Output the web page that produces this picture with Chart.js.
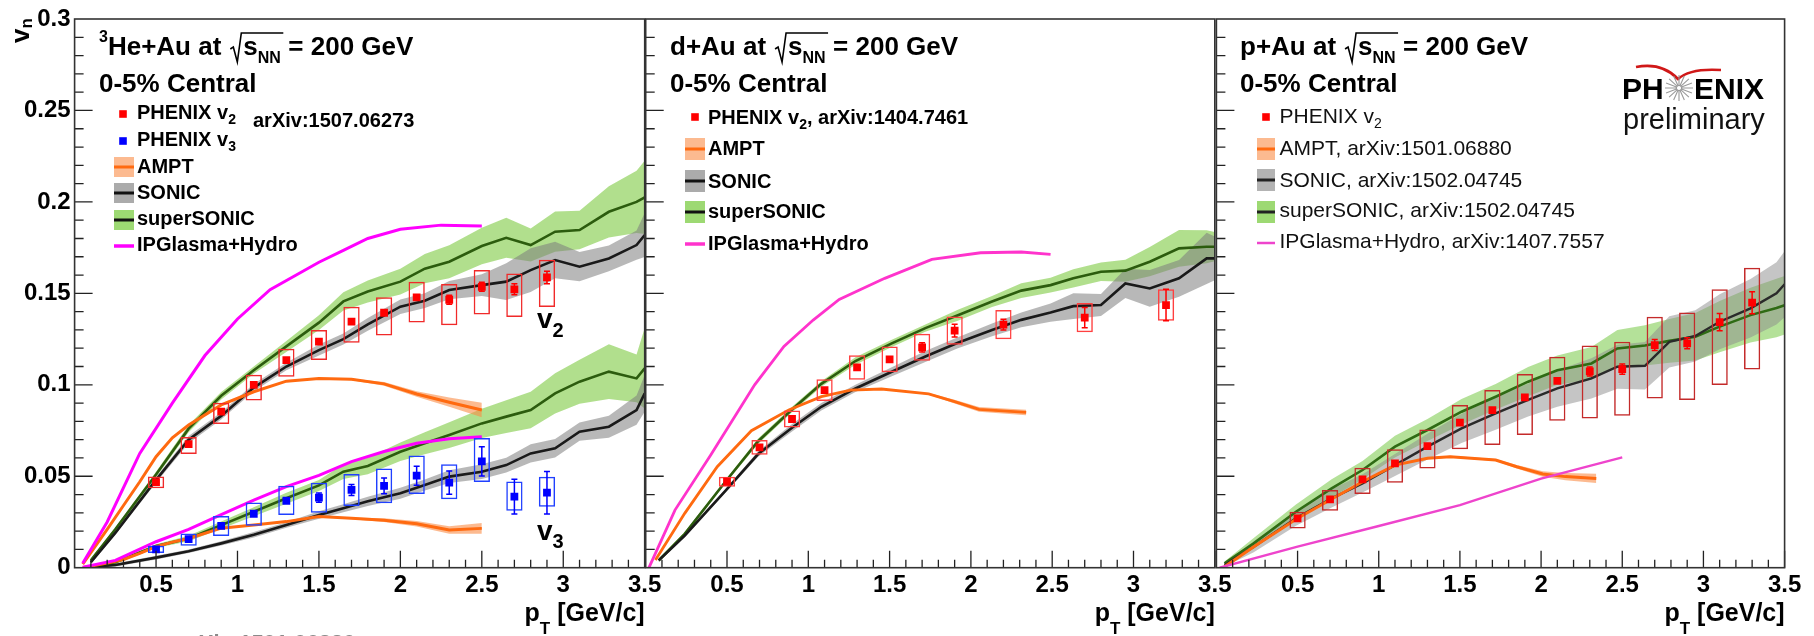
<!DOCTYPE html>
<html>
<head>
<meta charset="utf-8">
<title>v2 / v3 vs pT in 3He+Au, d+Au, p+Au</title>
<script src="https://cdn.jsdelivr.net/npm/chart.js@4.4.1/dist/chart.umd.min.js"></script>
<style>
  body { margin: 0; background: #fff; }
  #wrap { position: relative; width: 1814px; height: 636px; background: #fff; }
  #wrap canvas { position: absolute; left: 0; top: 0; }
</style>
</head>
<body>
<div id="wrap">
  <canvas id="heAu" width="1814" height="636"></canvas>
  <canvas id="dAu" width="1814" height="636"></canvas>
  <canvas id="pAu" width="1814" height="636"></canvas>
</div>
<script>
// ---- axes ----
const xTicks = [0.5, 1, 1.5, 2, 2.5, 3, 3.5];
const yTicks = [0, 0.05, 0.1, 0.15, 0.2, 0.25, 0.3];

// ---- 3He+Au : PHENIX data ----
const heAuPt = [0.5, 0.7, 0.9, 1.1, 1.3, 1.5, 1.7, 1.9, 2.1, 2.3, 2.5, 2.7, 2.9];
const heAuV2 = [0.0468, 0.0676, 0.0853, 0.100, 0.1135, 0.1236, 0.1345, 0.1394, 0.1478, 0.1465, 0.1536, 0.1522, 0.1587];
const heAuV2Stat = [0.001, 0.001, 0.0012, 0.0012, 0.0013, 0.0015, 0.0018, 0.002, 0.0022, 0.0025, 0.0025, 0.003, 0.0034];
const heAuV2SysUp = [0.0031, 0.0038, 0.0049, 0.0055, 0.0062, 0.0064, 0.0082, 0.0084, 0.0086, 0.0086, 0.0091, 0.0086, 0.0097];
const heAuV2SysDn = [0.0033, 0.0055, 0.0067, 0.0086, 0.0091, 0.01, 0.0115, 0.0124, 0.0137, 0.0139, 0.0151, 0.0151, 0.0162];
const heAuV3 = [0.0100, 0.0156, 0.0229, 0.0295, 0.0366, 0.0383, 0.0425, 0.0447, 0.0503, 0.0465, 0.0581, 0.0389, 0.0410];
const heAuV3Stat = [0.0008, 0.001, 0.0012, 0.0015, 0.002, 0.0025, 0.003, 0.0043, 0.0052, 0.0064, 0.008, 0.0095, 0.0116];
const heAuV3SysUp = [0.002, 0.0031, 0.0053, 0.0062, 0.0082, 0.0082, 0.0087, 0.0095, 0.011, 0.01, 0.0128, 0.0082, 0.0087];
const heAuV3SysDn = [0.002, 0.0036, 0.0055, 0.0066, 0.0078, 0.0082, 0.0087, 0.0095, 0.01, 0.0091, 0.0113, 0.0077, 0.0077];

// ---- 3He+Au : models ----
const heAuIpgV2Pt = [0.05, 0.2, 0.4, 0.6, 0.8, 1.0, 1.2, 1.5, 1.65, 1.8, 2.0, 2.25, 2.5];
const heAuIpgV2 = [0.0024, 0.025, 0.0625, 0.09, 0.116, 0.136, 0.152, 0.167, 0.1735, 0.18, 0.185, 0.1873, 0.1868];
const heAuIpgV3Pt = [0.05, 0.25, 0.5, 0.7, 0.9, 1.1, 1.3, 1.5, 1.7, 1.9, 2.1, 2.3, 2.5];
const heAuIpgV3 = [0.0003, 0.004, 0.0142, 0.021, 0.029, 0.037, 0.0443, 0.0505, 0.058, 0.0635, 0.068, 0.0705, 0.0716];
const heAuAmptPt = [0.05, 0.2, 0.3, 0.4, 0.5, 0.6, 0.7, 0.9, 1.1, 1.3, 1.5, 1.7, 1.9, 2.1, 2.3, 2.5];
const heAuAmptV2 = [0.002, 0.021, 0.034, 0.047, 0.0607, 0.071, 0.078, 0.089, 0.0962, 0.102, 0.1035, 0.103, 0.1005, 0.095, 0.0905, 0.0862];
const heAuAmptV2Err = [0, 0, 0, 0, 0, 0, 0, 0, 0, 0, 0, 0.0005, 0.001, 0.0015, 0.0025, 0.004];
const heAuAmptV3 = [0, 0.0025, 0.0045, 0.0078, 0.0115, 0.014, 0.016, 0.0216, 0.0234, 0.0252, 0.028, 0.027, 0.026, 0.024, 0.0206, 0.0215];
const heAuAmptV3Err = [0, 0, 0, 0, 0, 0, 0, 0, 0, 0, 0, 0.0005, 0.001, 0.0015, 0.002, 0.003];
const heAuHydroPt = [0.1, 0.25, 0.5, 0.7, 0.9, 1.1, 1.3, 1.5, 1.65, 1.8, 2.0, 2.15, 2.3, 2.5, 2.65, 2.8, 2.95, 3.1, 3.28, 3.45, 3.5];
const heAuSuperV2 = [0.004, 0.021, 0.051, 0.076, 0.094, 0.108, 0.121, 0.134, 0.1456, 0.151, 0.1564, 0.1635, 0.1673, 0.1759, 0.1804, 0.1764, 0.1837, 0.1846, 0.1946, 0.2, 0.2025];
const heAuSuperV2Err = [0.001, 0.001, 0.0015, 0.002, 0.002, 0.002, 0.003, 0.004, 0.005, 0.006, 0.007, 0.008, 0.009, 0.01, 0.011, 0.009, 0.011, 0.0105, 0.014, 0.017, 0.02];
const heAuSonicV2 = [0.003, 0.019, 0.048, 0.07, 0.083, 0.0985, 0.11, 0.119, 0.125, 0.133, 0.1427, 0.146, 0.1518, 0.1545, 0.1564, 0.1627, 0.1682, 0.1646, 0.1691, 0.1764, 0.1819];
const heAuSonicV2Err = [0.001, 0.001, 0.0015, 0.002, 0.002, 0.002, 0.002, 0.003, 0.003, 0.0035, 0.004, 0.004, 0.005, 0.006, 0.01, 0.012, 0.01, 0.008, 0.007, 0.008, 0.012];
const heAuSuperV3 = [0.0005, 0.003, 0.0118, 0.016, 0.0233, 0.0306, 0.038, 0.045, 0.0525, 0.0556, 0.0634, 0.068, 0.0725, 0.0789, 0.0826, 0.0862, 0.0953, 0.1017, 0.1072, 0.1035, 0.109];
const heAuSuperV3Err = [0.0005, 0.001, 0.001, 0.0015, 0.002, 0.0025, 0.003, 0.003, 0.004, 0.0045, 0.005, 0.006, 0.007, 0.008, 0.009, 0.01, 0.011, 0.012, 0.015, 0.013, 0.022];
const heAuSonicV3 = [0.0003, 0.0015, 0.0055, 0.009, 0.0133, 0.018, 0.0233, 0.0288, 0.0325, 0.0363, 0.0407, 0.0452, 0.0498, 0.0525, 0.0561, 0.0625, 0.0653, 0.0744, 0.0771, 0.0862, 0.0953];
const heAuSonicV3Err = [0.0005, 0.0008, 0.001, 0.001, 0.0012, 0.0015, 0.0015, 0.002, 0.0022, 0.0025, 0.003, 0.003, 0.0035, 0.004, 0.004, 0.005, 0.005, 0.005, 0.006, 0.008, 0.01];

// ---- d+Au ----
const dAuPt = [0.5, 0.7, 0.9, 1.1, 1.3, 1.5, 1.7, 1.9, 2.2, 2.7, 3.2];
const dAuV2 = [0.047, 0.0658, 0.0813, 0.0971, 0.1095, 0.1139, 0.1205, 0.1296, 0.1329, 0.1367, 0.1436];
const dAuV2Stat = [0.001, 0.001, 0.0012, 0.0013, 0.0015, 0.0018, 0.0025, 0.0035, 0.003, 0.0055, 0.0086];
const dAuV2Sys = [0.0027, 0.004, 0.0047, 0.006, 0.0067, 0.007, 0.0074, 0.0077, 0.008, 0.008, 0.0086];
const dAuIpgPt = [0.02, 0.18, 0.4, 0.67, 0.85, 1.03, 1.19, 1.47, 1.76, 2.06, 2.31, 2.49];
const dAuIpgV2 = [0.0, 0.0315, 0.0616, 0.1, 0.121, 0.1354, 0.1467, 0.1582, 0.1686, 0.1722, 0.1726, 0.1713];
const dAuAmptPt = [0.06, 0.24, 0.44, 0.65, 0.88, 1.08, 1.26, 1.45, 1.74, 1.9, 2.05, 2.34];
const dAuAmptV2 = [0.0042, 0.0297, 0.0552, 0.0749, 0.0862, 0.0935, 0.0971, 0.0977, 0.095, 0.0908, 0.0866, 0.0849];
const dAuAmptV2Err = [0, 0, 0, 0, 0, 0, 0, 0, 0.0005, 0.001, 0.0013, 0.0015];
const dAuHydroPt = [0.08, 0.24, 0.49, 0.69, 0.9, 1.08, 1.29, 1.51, 1.72, 1.92, 2.13, 2.31, 2.49, 2.63, 2.8, 2.95, 3.1, 3.28, 3.45, 3.5];
const dAuSuperV2 = [0.004, 0.0185, 0.047, 0.069, 0.0865, 0.1005, 0.113, 0.1225, 0.131, 0.138, 0.1455, 0.1515, 0.1545, 0.1582, 0.1618, 0.1624, 0.1673, 0.1746, 0.1755, 0.1755];
const dAuSuperV2Err = [0.001, 0.001, 0.001, 0.0015, 0.0015, 0.0015, 0.002, 0.002, 0.002, 0.003, 0.003, 0.004, 0.004, 0.005, 0.005, 0.006, 0.008, 0.01, 0.009, 0.008];
const dAuSonicV2 = [0.004, 0.0175, 0.042, 0.062, 0.0765, 0.088, 0.098, 0.107, 0.1155, 0.123, 0.130, 0.1355, 0.1395, 0.143, 0.1436, 0.1554, 0.1527, 0.1582, 0.1691, 0.1691];
const dAuSonicV2Err = [0.001, 0.001, 0.001, 0.0015, 0.002, 0.002, 0.002, 0.0025, 0.003, 0.003, 0.0035, 0.004, 0.005, 0.007, 0.006, 0.008, 0.01, 0.01, 0.014, 0.012];

// ---- p+Au ----
const pAuPt = [0.5, 0.7, 0.9, 1.1, 1.3, 1.5, 1.7, 1.9, 2.1, 2.3, 2.5, 2.7, 2.9, 3.1, 3.3];
const pAuV2 = [0.027, 0.0374, 0.0483, 0.057, 0.0665, 0.0793, 0.0862, 0.0931, 0.1022, 0.1073, 0.1086, 0.1217, 0.1227, 0.1343, 0.1449];
const pAuV2Stat = [0.001, 0.001, 0.001, 0.0012, 0.0014, 0.0016, 0.0018, 0.002, 0.0022, 0.0025, 0.0028, 0.003, 0.003, 0.0047, 0.006];
const pAuV2SysUp = [0.0036, 0.0051, 0.0064, 0.0077, 0.0091, 0.0097, 0.0109, 0.0128, 0.0131, 0.0142, 0.0149, 0.0155, 0.0168, 0.018, 0.0191];
const pAuV2SysDn = [0.0055, 0.0062, 0.008, 0.0106, 0.0122, 0.0146, 0.0191, 0.0206, 0.0219, 0.0257, 0.0255, 0.0292, 0.031, 0.0344, 0.0365];
const pAuIpgPt = [0.02, 0.5, 1.0, 1.5, 2.0, 2.5];
const pAuIpgV2 = [0.0, 0.0115, 0.0228, 0.0342, 0.0487, 0.0603];
const pAuAmptPt = [0.05, 0.23, 0.5, 0.7, 0.9, 1.1, 1.3, 1.44, 1.72, 1.85, 2.01, 2.15, 2.34];
const pAuAmptV2 = [0.0005, 0.0115, 0.027, 0.037, 0.047, 0.0561, 0.0598, 0.0607, 0.0589, 0.0552, 0.0512, 0.0498, 0.0488];
const pAuAmptV2Err = [0, 0, 0, 0, 0, 0, 0.0005, 0.0005, 0.0005, 0.001, 0.0015, 0.002, 0.0025];
const pAuHydroPt = [0.05, 0.23, 0.49, 0.71, 0.9, 1.1, 1.3, 1.51, 1.72, 1.92, 2.1, 2.31, 2.47, 2.64, 2.79, 2.95, 3.1, 3.29, 3.45, 3.5];
const pAuSuperV2 = [0.0024, 0.0133, 0.0306, 0.0434, 0.0534, 0.0662, 0.0753, 0.0853, 0.0935, 0.1017, 0.108, 0.1117, 0.1199, 0.1215, 0.124, 0.1263, 0.1318, 0.1381, 0.142, 0.1435];
const pAuSuperV2Err = [0.001, 0.003, 0.004, 0.005, 0.005, 0.006, 0.006, 0.007, 0.007, 0.008, 0.008, 0.009, 0.01, 0.011, 0.012, 0.013, 0.014, 0.015, 0.016, 0.016];
const pAuSonicV2 = [0.0015, 0.0115, 0.027, 0.0379, 0.0461, 0.0561, 0.0662, 0.0762, 0.0844, 0.0917, 0.098, 0.1035, 0.1099, 0.1104, 0.1235, 0.1267, 0.1345, 0.1418, 0.15, 0.155];
const pAuSonicV2Err = [0.001, 0.003, 0.004, 0.005, 0.005, 0.006, 0.007, 0.008, 0.009, 0.009, 0.01, 0.011, 0.012, 0.013, 0.014, 0.014, 0.015, 0.016, 0.017, 0.018];

// ---- layout ----
const W = 1814, H = 636, TOP = 19, BOTTOM = 567.7;
const panelLeft = [74.6, 645.7, 1216.4];
const panelRight = [644.7, 1214.8, 1784.6];
const FONT = '"Liberation Sans", Arial, Helvetica, sans-serif';
const ORANGE = '#ff6a10', ORANGE_BAND = 'rgba(250,140,70,0.6)';
const GREEN_LINE = '#2c5c0e', GREEN_BAND = 'rgba(135,206,80,0.65)';
const GRAY_BAND = 'rgba(125,125,125,0.55)';

function font(size, bold) { return (bold ? 'bold ' : '') + size + 'px ' + FONT; }

function pts(xs, ys) { return xs.map((x, i) => ({ x: x, y: ys[i] })); }

function curve(xs, ys, color, width, order) {
    return { type: 'line', data: pts(xs, ys), borderColor: color, borderWidth: width,
             pointRadius: 0, tension: 0, fill: false, order: order };
}

function band(xs, ys, es, color, order) {
    const lo = xs.map((x, i) => ({ x: x, y: ys[i] - es[i] }));
    const hi = xs.map((x, i) => ({ x: x, y: ys[i] + es[i] }));
    return [
        { type: 'line', data: lo, borderColor: 'transparent', pointRadius: 0, tension: 0, fill: false, order: order },
        { type: 'line', data: hi, borderColor: 'transparent', pointRadius: 0, tension: 0, fill: '-1', backgroundColor: color, order: order }
    ];
}

function boxes(xs, ys, up, dn, color, order) {
    return { type: 'bar', data: xs.map((x, i) => ({ x: x, y: [ys[i] - dn[i], ys[i] + up[i]] })),
             borderColor: color, backgroundColor: 'transparent', borderWidth: 1.5, borderSkipped: false,
             grouped: false, categoryPercentage: 1, barPercentage: 0.5, order: order };
}

function markers(xs, ys, errs, color, order) {
    return { type: 'scatter', data: pts(xs, ys), pointStyle: 'rect', pointRadius: 5.5,
             backgroundColor: color, borderColor: color, borderWidth: 0, statErr: errs, order: order };
}

// ROOT style frame with inward ticks
const rootFrame = {
    id: 'rootFrame',
    afterDatasetsDraw(chart) {
        const { ctx, chartArea: a, scales: { x, y } } = chart;
        ctx.save();
        ctx.strokeStyle = '#222';
        ctx.lineWidth = 1.3;
        ctx.beginPath();
        for (let k = 1; k <= 35; k++) {
            const px = x.getPixelForValue(k / 10);
            ctx.moveTo(px, a.bottom);
            ctx.lineTo(px, a.bottom - (k % 5 ? 8 : 17));
        }
        for (let k = 1; k < 30; k++) {
            const py = y.getPixelForValue(k / 100);
            ctx.moveTo(a.left, py);
            ctx.lineTo(a.left + (k % 5 ? 9 : 18), py);
        }
        ctx.stroke();
        ctx.strokeStyle = '#333';
        ctx.lineWidth = 1.6;
        ctx.strokeRect(a.left, a.top, a.right - a.left, a.bottom - a.top);
        ctx.restore();
    }
};

// statistical error bars of the data points
const errorBars = {
    id: 'errorBars',
    afterDatasetsDraw(chart) {
        const { ctx, scales: { x, y } } = chart;
        chart.data.datasets.forEach(ds => {
            if (!ds.statErr) return;
            ctx.save();
            ctx.strokeStyle = ds.backgroundColor;
            ctx.lineWidth = 1.5;
            ds.data.forEach((p, i) => {
                const px = x.getPixelForValue(p.x);
                const y1 = y.getPixelForValue(p.y - ds.statErr[i]);
                const y2 = y.getPixelForValue(p.y + ds.statErr[i]);
                if (y1 - y2 < 9) return;
                ctx.beginPath();
                ctx.moveTo(px, y1); ctx.lineTo(px, y2);
                ctx.moveTo(px - 3, y1); ctx.lineTo(px + 3, y1);
                ctx.moveTo(px - 3, y2); ctx.lineTo(px + 3, y2);
                ctx.stroke();
            });
            ctx.restore();
        });
    }
};

// text helpers
function runs(ctx, x, y, parts) {
    parts.forEach(p => {
        ctx.font = font(p[1], p[3]);
        ctx.fillText(p[0], x, y + p[2]);
        x += ctx.measureText(p[0]).width;
    });
    return x;
}

function runsWidth(ctx, parts) {
    let w = 0;
    parts.forEach(p => { ctx.font = font(p[1], p[3]); w += ctx.measureText(p[0]).width; });
    return w;
}

function panelTitle(ctx, x, prefix) {
    ctx.fillStyle = '#000';
    const end = runs(ctx, x, 55, prefix);
    const r = end + 10;
    ctx.strokeStyle = '#000';
    ctx.lineWidth = 1.6;
    ctx.beginPath();
    ctx.moveTo(r - 1, 49); ctx.lineTo(r + 2, 47); ctx.lineTo(r + 6, 62); ctx.lineTo(r + 10, 33); ctx.lineTo(r + 52, 33);
    ctx.stroke();
    runs(ctx, r + 12, 55, [['s', 26, 0, true], ['NN', 16, 8, true]]);
    runs(ctx, r + 57, 55, [['= 200 GeV', 26, 0, true]]);
    runs(ctx, x, 92, [['0-5% Central', 26, 0, true]]);
}

function xTitle(ctx, right) {
    const parts = [['p', 25, 0, true], ['T', 17, 13, true], [' [GeV/c]', 25, 0, true]];
    ctx.fillStyle = '#000';
    runs(ctx, right - runsWidth(ctx, parts), 621, parts);
}

function legMarker(ctx, x, y, color) {
    ctx.fillStyle = color;
    ctx.fillRect(x - 3.8, y - 3.8, 7.6, 7.6);
}

function legBand(ctx, x0, x1, y, h, fill, line) {
    ctx.fillStyle = fill;
    ctx.fillRect(x0, y - h / 2, x1 - x0, h);
    ctx.strokeStyle = line;
    ctx.lineWidth = 3;
    ctx.beginPath(); ctx.moveTo(x0, y); ctx.lineTo(x1, y); ctx.stroke();
}

function legLine(ctx, x0, x1, y, color, w) {
    ctx.strokeStyle = color;
    ctx.lineWidth = w;
    ctx.beginPath(); ctx.moveTo(x0, y); ctx.lineTo(x1, y); ctx.stroke();
}

function decoHeAu(ctx) {
    ctx.save();
    ctx.textAlign = 'left';
    ctx.textBaseline = 'alphabetic';
    panelTitle(ctx, 99, [['3', 16, -13, true], ['He+Au at', 26, 0, true]]);
    legMarker(ctx, 123, 114, '#ff0000');
    legMarker(ctx, 123, 141, '#0000ff');
    legBand(ctx, 114, 134, 167, 20, ORANGE_BAND, ORANGE);
    legBand(ctx, 114, 134, 193, 20, 'rgba(150,150,150,0.8)', '#111');
    legBand(ctx, 114, 134, 220, 20, 'rgba(140,210,90,0.85)', '#111');
    legLine(ctx, 114, 134, 246, '#ff00ff', 3.5);
    ctx.fillStyle = '#000';
    runs(ctx, 137, 119, [['PHENIX v', 20, 0, true], ['2', 14, 5, true]]);
    runs(ctx, 253, 127, [['arXiv:1507.06273', 20, 0, true]]);
    runs(ctx, 137, 146, [['PHENIX v', 20, 0, true], ['3', 14, 5, true]]);
    runs(ctx, 137, 173, [['AMPT', 20, 0, true]]);
    runs(ctx, 137, 199, [['SONIC', 20, 0, true]]);
    runs(ctx, 137, 225, [['superSONIC', 20, 0, true]]);
    runs(ctx, 137, 251, [['IPGlasma+Hydro', 20, 0, true]]);
    runs(ctx, 537, 328, [['v', 28, 0, true], ['2', 20, 9, true]]);
    runs(ctx, 537, 540, [['v', 28, 0, true], ['3', 20, 8, true]]);
    // y axis title
    ctx.save();
    ctx.translate(29, 43);
    ctx.rotate(-Math.PI / 2);
    runs(ctx, 0, 0, [['v', 26, 0, true], ['n', 17, 3, true]]);
    ctx.restore();
    xTitle(ctx, panelRight[0]);
    ctx.fillStyle = '#8a8a8a';
    runs(ctx, 178, 650, [['arXiv:1501.06880', 22, 0, true]]);
    ctx.restore();
}

function decoDAu(ctx) {
    ctx.save();
    ctx.textAlign = 'left';
    ctx.textBaseline = 'alphabetic';
    panelTitle(ctx, 670, [['d+Au at', 26, 0, true]]);
    legMarker(ctx, 695, 117, '#ff0000');
    legBand(ctx, 685, 705, 149, 22, ORANGE_BAND, ORANGE);
    legBand(ctx, 685, 705, 181, 22, 'rgba(150,150,150,0.8)', '#111');
    legBand(ctx, 685, 705, 212, 22, 'rgba(140,210,90,0.85)', '#111');
    legLine(ctx, 685, 705, 244, '#ff33cc', 3.5);
    ctx.fillStyle = '#000';
    runs(ctx, 708, 124, [['PHENIX v', 20, 0, true], ['2', 14, 5, true], [', arXiv:1404.7461', 20, 0, true]]);
    runs(ctx, 708, 155, [['AMPT', 20, 0, true]]);
    runs(ctx, 708, 188, [['SONIC', 20, 0, true]]);
    runs(ctx, 708, 218, [['superSONIC', 20, 0, true]]);
    runs(ctx, 708, 250, [['IPGlasma+Hydro', 20, 0, true]]);
    xTitle(ctx, panelRight[1]);
    ctx.restore();
}

function decoPAu(ctx) {
    ctx.save();
    ctx.textAlign = 'left';
    ctx.textBaseline = 'alphabetic';
    panelTitle(ctx, 1240, [['p+Au at', 26, 0, true]]);
    legMarker(ctx, 1266, 117, '#ff0000');
    legBand(ctx, 1257, 1275, 149, 22, ORANGE_BAND, ORANGE);
    legBand(ctx, 1257, 1275, 180, 22, 'rgba(160,160,160,0.8)', '#222');
    legBand(ctx, 1257, 1275, 212, 22, 'rgba(140,210,90,0.85)', '#222');
    legLine(ctx, 1257, 1275, 243, '#ee44cc', 2.5);
    ctx.fillStyle = '#111';
    runs(ctx, 1279.5, 123, [['PHENIX v', 21, 0, false], ['2', 14, 5, false]]);
    runs(ctx, 1279.5, 155, [['AMPT, arXiv:1501.06880', 21, 0, false]]);
    runs(ctx, 1279.5, 187, [['SONIC, arXiv:1502.04745', 21, 0, false]]);
    runs(ctx, 1279.5, 217, [['superSONIC, arXiv:1502.04745', 21, 0, false]]);
    runs(ctx, 1279.5, 248, [['IPGlasma+Hydro, arXiv:1407.7557', 21, 0, false]]);
    xTitle(ctx, panelRight[2]);
    // PHENIX preliminary logo
    ctx.strokeStyle = '#d01818';
    ctx.lineWidth = 2.6;
    ctx.beginPath();
    ctx.moveTo(1636, 67);
    ctx.quadraticCurveTo(1662, 62, 1678, 79);
    ctx.quadraticCurveTo(1690, 68, 1721, 70);
    ctx.stroke();
    ctx.fillStyle = '#000';
    runs(ctx, 1622, 99, [['PH', 30, 0, true]]);
    runs(ctx, 1694, 99, [['ENIX', 30, 0, true]]);
    ctx.strokeStyle = '#9a9a9a';
    ctx.lineWidth = 1.1;
    ctx.beginPath();
    for (let k = 0; k < 16; k++) {
        const t = k * Math.PI / 8;
        ctx.moveTo(1679 + 2 * Math.cos(t), 88 + 2 * Math.sin(t));
        ctx.lineTo(1679 + 14 * Math.cos(t), 88 + 13 * Math.sin(t));
    }
    ctx.stroke();
    ctx.fillStyle = '#111';
    runs(ctx, 1623, 129, [['preliminary', 29, 0, false]]);
    ctx.restore();
}

function buildPanel(id, idx, datasets, deco) {
    const tickFont = { family: FONT, size: 24, weight: 'bold' };
    const yWidth = idx === 0 ? panelLeft[0] : 0;
    return new Chart(document.getElementById(id), {
        type: 'scatter',
        data: { datasets: datasets },
        options: {
            responsive: false,
            animation: false,
            events: [],
            layout: { padding: { left: panelLeft[idx] - yWidth, right: W - panelRight[idx], top: TOP, bottom: 0 } },
            plugins: { legend: { display: false }, tooltip: { enabled: false } },
            scales: {
                x: {
                    type: 'linear', min: 0, max: 3.5, offset: false,
                    afterBuildTicks: s => { s.ticks = xTicks.map(v => ({ value: v })); },
                    afterFit: s => { s.height = H - BOTTOM; },
                    grid: { display: false, drawTicks: false },
                    border: { display: false },
                    ticks: { autoSkip: false, maxRotation: 0, padding: 3, color: '#000', font: tickFont,
                             callback: v => String(v) }
                },
                y: {
                    type: 'linear', min: 0, max: 0.3,
                    afterBuildTicks: s => { s.ticks = yTicks.map(v => ({ value: v })); },
                    afterFit: s => { s.width = yWidth; },
                    grid: { display: false, drawTicks: false },
                    border: { display: false },
                    ticks: { display: idx === 0, padding: 4, color: '#000', font: tickFont,
                             callback: v => String(v) }
                }
            }
        },
        plugins: [rootFrame, errorBars, { id: 'deco' + id, afterDraw: c => deco(c.ctx) }]
    });
}

buildPanel('heAu', 0, [
    markers(heAuPt, heAuV2, heAuV2Stat, '#ff0000', 1),
    markers(heAuPt, heAuV3, heAuV3Stat, '#0000ff', 1),
    boxes(heAuPt, heAuV2, heAuV2SysUp, heAuV2SysDn, '#f02a2a', 3),
    boxes(heAuPt, heAuV3, heAuV3SysUp, heAuV3SysDn, '#2040ff', 3),
    curve(heAuIpgV2Pt, heAuIpgV2, '#ff00ff', 3, 5),
    curve(heAuIpgV3Pt, heAuIpgV3, '#ff00ff', 3, 5),
    curve(heAuAmptPt, heAuAmptV2, ORANGE, 3, 5),
    curve(heAuAmptPt, heAuAmptV3, ORANGE, 3, 5),
    curve(heAuHydroPt, heAuSonicV2, '#1a1a1a', 2.6, 5),
    curve(heAuHydroPt, heAuSonicV3, '#1a1a1a', 2.6, 5),
    curve(heAuHydroPt, heAuSuperV2, GREEN_LINE, 2.6, 5),
    curve(heAuHydroPt, heAuSuperV3, GREEN_LINE, 2.6, 5),
    ...band(heAuAmptPt, heAuAmptV2, heAuAmptV2Err, ORANGE_BAND, 8),
    ...band(heAuAmptPt, heAuAmptV3, heAuAmptV3Err, ORANGE_BAND, 8),
    ...band(heAuHydroPt, heAuSonicV2, heAuSonicV2Err, GRAY_BAND, 9),
    ...band(heAuHydroPt, heAuSonicV3, heAuSonicV3Err, GRAY_BAND, 9),
    ...band(heAuHydroPt, heAuSuperV2, heAuSuperV2Err, GREEN_BAND, 10),
    ...band(heAuHydroPt, heAuSuperV3, heAuSuperV3Err, GREEN_BAND, 10)
], decoHeAu);

buildPanel('dAu', 1, [
    markers(dAuPt, dAuV2, dAuV2Stat, '#ff0000', 1),
    boxes(dAuPt, dAuV2, dAuV2Sys, dAuV2Sys, '#ff4040', 3),
    curve(dAuIpgPt, dAuIpgV2, '#ff33cc', 2.8, 5),
    curve(dAuAmptPt, dAuAmptV2, ORANGE, 2.8, 5),
    curve(dAuHydroPt, dAuSonicV2, '#1a1a1a', 2.6, 5),
    curve(dAuHydroPt, dAuSuperV2, GREEN_LINE, 2.6, 5),
    ...band(dAuAmptPt, dAuAmptV2, dAuAmptV2Err, ORANGE_BAND, 8),
    ...band(dAuHydroPt, dAuSonicV2, dAuSonicV2Err, GRAY_BAND, 9),
    ...band(dAuHydroPt, dAuSuperV2, dAuSuperV2Err, GREEN_BAND, 10)
], decoDAu);

buildPanel('pAu', 2, [
    markers(pAuPt, pAuV2, pAuV2Stat, '#ff0000', 1),
    boxes(pAuPt, pAuV2, pAuV2SysUp, pAuV2SysDn, '#c42a2a', 3),
    curve(pAuIpgPt, pAuIpgV2, '#ee44cc', 2.4, 5),
    curve(pAuAmptPt, pAuAmptV2, ORANGE, 3, 5),
    curve(pAuHydroPt, pAuSonicV2, '#2a2a2a', 2.4, 5),
    curve(pAuHydroPt, pAuSuperV2, '#2f6b14', 2.6, 5),
    ...band(pAuAmptPt, pAuAmptV2, pAuAmptV2Err, ORANGE_BAND, 8),
    ...band(pAuHydroPt, pAuSonicV2, pAuSonicV2Err, 'rgba(140,140,140,0.5)', 9),
    ...band(pAuHydroPt, pAuSuperV2, pAuSuperV2Err, 'rgba(130,205,85,0.6)', 10)
], decoPAu);
</script>
</body>
</html>
